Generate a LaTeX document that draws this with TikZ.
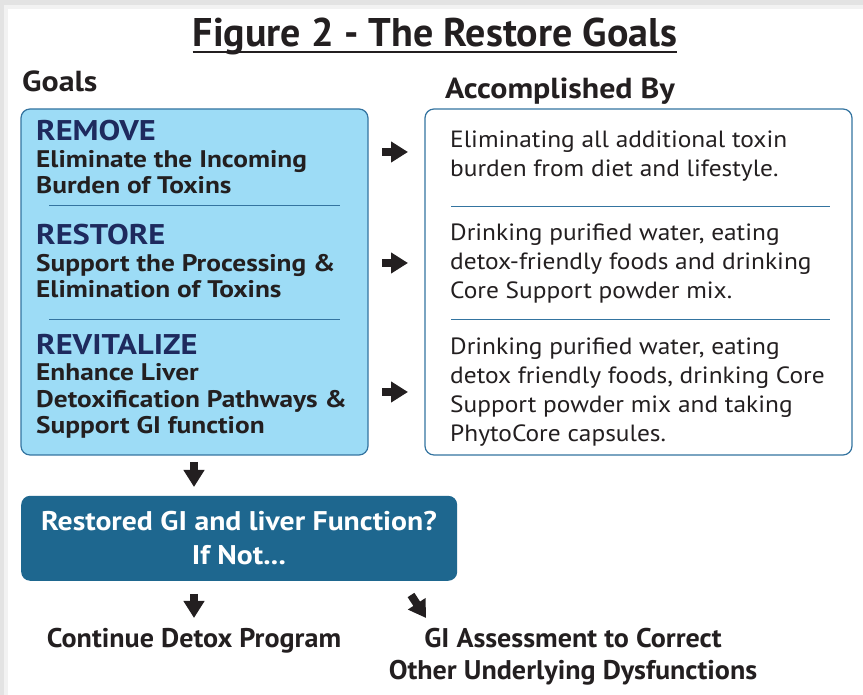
\documentclass[tikz,border=0pt]{standalone}
\usepackage{fontspec}
\setmainfont{PT Sans}
\newfontfamily\headfont[FakeStretch=1.10]{PT Sans}
\newfontfamily\goalfont[FakeStretch=1.14]{PT Sans}
\newfontfamily\byfont[FakeStretch=1.08]{PT Sans}
\newfontfamily\lowfont[FakeStretch=1.04]{PT Sans}
\usetikzlibrary{arrows.meta,calc}
\definecolor{goalfill}{RGB}{157,220,246}
\definecolor{goalline}{RGB}{52,116,160}
\definecolor{navy}{RGB}{30,42,94}
\definecolor{darkbox}{RGB}{30,103,143}
\definecolor{ink}{RGB}{35,31,32}
\tikzset{
  goalbox/.style={draw=goalline, line width=1.2, rounded corners=9},
  sepline/.style={draw=goalline, line width=1},
  blockarrow/.style={ink, line width=8, -{Triangle[length=17pt,width=20pt]}},
  goaltext/.style={anchor=base west, align=left, inner sep=0, text=ink,
    font=\goalfont\bfseries\fontsize{24}{26.5}\selectfont},
  bytext/.style={anchor=base west, align=left, inner sep=0, text=ink,
    font=\byfont\fontsize{23.5}{29}\selectfont},
  condtext/.style={inner sep=0, text=ink, font=\lowfont\bfseries\fontsize{27}{32}\selectfont}
}
\newcommand{\goalhead}[1]{{\color{navy}\fontsize{28.5}{27}\selectfont #1}}
\begin{document}
\begin{tikzpicture}[x=1pt, y=1pt]
			%%%%% START %%%%%
			
			\useasboundingbox (0, 0) rectangle (863, 695);
			\fill[gray!22] (0, 0) rectangle (863, 695);
			\fill[gray!10] (4, 0) rectangle (863, 690);
			\fill[white] (8, 0) rectangle (863, 686);
			
			% title and column heads
			\node[condtext, anchor=base, font=\bfseries\fontsize{40}{40}\selectfont] (title) at (435, 648) {Figure 2 - The Restore Goals};
			\draw[ink, line width=2.5] (title.west |- 0, 643) -- (title.east |- 0, 643);
			\node[condtext, anchor=base west, font=\headfont\bfseries\fontsize{29}{30}\selectfont] (goalshead) at (22, 603) {Goals};
			\node[condtext, anchor=base west, font=\headfont\bfseries\fontsize{29}{30}\selectfont] (byhead) at (445, 596) {Accomplished By};
			
			% goals box
			\draw[goalbox, fill=goalfill] (21, 240) rectangle (368, 586);
			\draw[sepline] (49, 489) -- (340, 489);
			\draw[sepline] (49, 375) -- (340, 375);
			
			\node[goaltext] (remove) at (36, 501) {\goalhead{REMOVE}\\Eliminate the Incoming\\Burden of Toxins};
			\node[goaltext] (restore) at (36, 397) {\goalhead{RESTORE}\\Support the Processing \&\\Elimination of Toxins};
			\node[goaltext] (revitalize) at (36, 261) {\goalhead{REVITALIZE}\\Enhance Liver\\Detoxification Pathways \&\\Support GI function};
			
			% accomplished by box
			\draw[goalbox, fill=white] (425, 240) rectangle (852, 586);
			\draw[sepline] (451, 488) -- (830, 488);
			\draw[sepline] (451, 375) -- (830, 375);
			
			\node[bytext] (byremove) at (450, 518) {Eliminating all additional toxin\\burden from diet and lifestyle.};
			\node[bytext] (byrestore) at (450, 396) {Drinking purified water, eating\\detox-friendly foods and drinking\\Core Support powder mix.};
			\node[bytext] (byrevitalize) at (450, 253) {Drinking purified water, eating\\detox friendly foods, drinking Core\\Support powder mix and taking\\PhytoCore capsules.};
			
			\draw[blockarrow] (382, 543) -- (408, 543);
			\draw[blockarrow] (382, 432) -- (408, 432);
			\draw[blockarrow] (382, 303) -- (408, 303);
			
			% decision box
			\draw[blockarrow] (194, 233) -- (194, 208);
			\node[fill=darkbox, rounded corners=9, minimum width=436, minimum height=85, anchor=south west] (check) at (21, 114) {};
			\node[condtext, text=white, anchor=base, font=\headfont\bfseries\fontsize{27}{32}\selectfont] (checkA) at (239, 164) {Restored GI and liver Function?};
			\node[condtext, text=white, anchor=base, font=\headfont\bfseries\fontsize{27}{32}\selectfont] (checkB) at (239, 130) {If Not...};
			
			\draw[blockarrow] (194, 101) -- (194, 77);
			\draw[blockarrow] (411, 100) -- (426, 77);
			
			\node[condtext, anchor=base] (cont) at (194, 47) {Continue Detox Program};
			\node[condtext, anchor=base] (assessA) at (573, 47) {GI Assessment to Correct};
			\node[condtext, anchor=base] (assessB) at (573, 15) {Other Underlying Dysfunctions};
			
			%%%%% END %%%%%
		\end{tikzpicture}
\end{document}
